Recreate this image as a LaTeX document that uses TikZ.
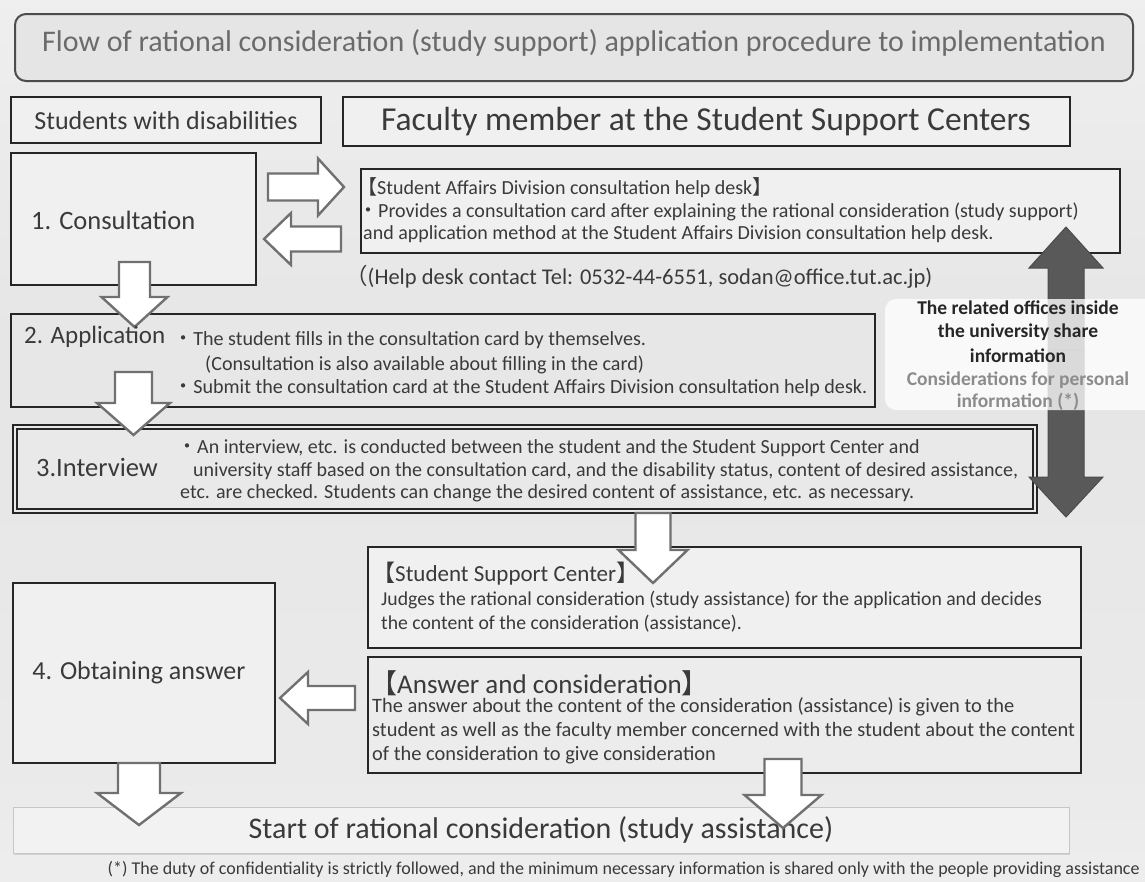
\documentclass[tikz,border=0pt]{standalone}
\usepackage{fontspec}
\setmainfont{Carlito}
\newfontfamily\cjk{Noto Sans CJK JP}
\usetikzlibrary{shadows}
\definecolor{ink}{HTML}{3A3A3A}
\definecolor{titleink}{HTML}{6B6B6B}
\definecolor{noteink}{HTML}{8C8C8C}
\definecolor{boxline}{HTML}{262626}
\definecolor{arrowline}{HTML}{707070}
\definecolor{darkarrow}{HTML}{595959}
\pgfdeclareverticalshading{bgshade}{100bp}{color(0bp)=(white); color(8bp)=(gray!6); color(30bp)=(gray!16); color(55bp)=(gray!20); color(80bp)=(gray!11); color(100bp)=(gray!3)}
\newcommand{\lbk}{{\cjk 【}}
\newcommand{\rbk}{{\cjk 】}}
\newcommand{\dotb}{{\cjk ・}}
\newcommand{\fwparen}{{\cjk （}}
\tikzset{
  box/.style={draw=boxline, line width=1.6pt, fill=#1},
  box/.default={gray!12},
  warrow/.style={draw=arrowline, line width=2.4pt, fill=white, line join=miter},
  darrow/.style={draw=darkarrow!85!black, line width=1pt, fill=darkarrow},
  txt/.style={inner sep=0pt, text=ink, font=\fontsize{#1}{#1}\selectfont},
  txt/.default={15.5},
  sharetxt/.style={inner sep=0pt, font=\bfseries\fontsize{19.5}{19.5}\selectfont},
}
% horizontal block arrow: tail x, head base x, tip x, centre y, shaft half, head half
\newcommand{\harrow}[6]{\path[warrow] (#1,{#4-#5}) -- (#2,{#4-#5}) -- (#2,{#4-#6}) -- (#3,#4) -- (#2,{#4+#6}) -- (#2,{#4+#5}) -- (#1,{#4+#5}) -- cycle;}
% vertical block arrow: tail y, head base y, tip y, centre x, shaft half, head half
\newcommand{\varrow}[7][warrow]{\path[#1] ({#5-#6},#2) -- ({#5-#6},#3) -- ({#5-#7},#3) -- (#5,#4) -- ({#5+#7},#3) -- ({#5+#6},#3) -- ({#5+#6},#2) -- cycle;}
\begin{document}
\begin{tikzpicture}[x=1pt,y=-1pt]
% page background
\path[shading=bgshade] (0,0) rectangle (1145,881);
\useasboundingbox (0,0) rectangle (1145,881);

% title
\draw[draw=gray!60!black, line width=2pt, fill=gray!20, rounded corners=11pt] (15,14) rectangle (1133,81);
\node[txt=30, text=titleink] (title) at (574,43) {Flow of rational consideration (study support) application procedure to implementation};

% column headers
\draw[box] (11,97) rectangle (321,143);
\node[txt=26] (students) at (166,121) {Students with disabilities};
\draw[box] (343,97) rectangle (1070,146);
\node[txt=33.5] (faculty) at (706,122) {Faculty member at the Student Support Centers};

% 1. consultation
\draw[box] (11,153) rectangle (256,285);
\node[txt=26.5, anchor=west] (consult) at (31,220) {1. Consultation};
\harrow{268}{318}{344}{187}{13.5}{28.5}
\harrow{341}{291}{264}{239}{12.5}{26}
\draw[box] (361,169) rectangle (1120,253);
\node[txt=20, anchor=west] (desk1) at (357,188) {\lbk Student Affairs Division consultation help desk\rbk};
\node[txt=20, anchor=west] (desk2) at (358,212) {\dotb Provides a consultation card after explaining the rational consideration (study support)};
\node[txt=20, anchor=west] (desk3) at (363,234) {and application method at the Student Affairs Division consultation help desk.};
\node[txt=22.5, anchor=west] (contact) at (345,277) {\fwparen(Help desk contact Tel: 0532-44-6551, sodan@office.tut.ac.jp)};

% 2. application
\draw[box=gray!19] (11,314) rectangle (875,407);
\varrow{262}{297}{327}{134.5}{15.5}{33}
\node[txt=25, anchor=west] (apply) at (24,337) {2. Application};
\node[txt=20.1, anchor=west] (app1) at (173,340) {\dotb The student fills in the consultation card by themselves.};
\node[txt=20.1, anchor=west] (app2) at (205,365) {(Consultation is also available about filling in the card)};
\node[txt=20.1, anchor=west] (app3) at (173,388) {\dotb Submit the consultation card at the Student Affairs Division consultation help desk.};

% 3. interview (double frame)
\draw[draw=boxline, line width=1.2pt, fill=gray!17] (13,425) rectangle (1037,513);
\draw[draw=boxline, line width=1.2pt] (17,429) rectangle (1033,509);
\varrow{372}{403}{435}{133.5}{18.5}{36.5}
\node[txt=26.5] (interview) at (97,467) {3.Interview};
\node[txt=20, anchor=west] (int1) at (177,448) {\dotb An interview, etc. is conducted between the student and the Student Support Center and};
\node[txt=20, anchor=west] (int2) at (193,471) {university staff based on the consultation card, and the disability status, content of desired assistance,};
\node[txt=20, anchor=west] (int3) at (180,493) {etc. are checked. Students can change the desired content of assistance, etc. as necessary.};

% information sharing between offices
\varrow[darrow]{350}{268}{227}{1066}{18}{37}
\varrow[darrow]{350}{477}{517}{1066}{18}{37}
\path[fill=white, fill opacity=0.78, rounded corners=11pt] (885,299) rectangle (1160,410);
\node[sharetxt, text=boxline] (share1) at (1018,308) {The related offices inside};
\node[sharetxt, text=boxline] (share2) at (1018,332) {the university share};
\node[sharetxt, text=boxline] (share3) at (1018,356) {information};
\node[sharetxt, text=noteink] (share4) at (1018,380) {Considerations for personal};
\node[sharetxt, text=noteink] (share5) at (1018,402) {information (*)};

% student support center decision
\draw[box] (368,547) rectangle (1081,648);
\node[txt=23, anchor=west] (ssc1) at (372,574) {\lbk Student Support Center\rbk};
\node[txt=19.7, anchor=west] (ssc2) at (381,600) {Judges the rational consideration (study assistance) for the application and decides};
\node[txt=19.7, anchor=west] (ssc3) at (381,624) {the content of the consideration (assistance).};
\varrow{513}{550}{583}{653}{17.5}{34.5}

% answer
\draw[box=gray!15] (368,657) rectangle (1081,773);
\node[txt=27, anchor=west] (ans1) at (370,683) {\lbk Answer and consideration\rbk};
\node[txt=20.4, anchor=west] (ans2) at (372,707) {The answer about the content of the consideration (assistance) is given to the};
\node[txt=20.4, anchor=west] (ans3) at (372,731) {student as well as the faculty member concerned with the student about the content};
\node[txt=20.4, anchor=west] (ans4) at (372,755) {of the consideration to give consideration};

% 4. obtaining answer
\draw[box] (13,583) rectangle (275,763);
\node[txt=26] (obtain) at (139,673) {4. Obtaining answer};
\harrow{355}{308}{280}{698}{12}{26}

% start of assistance
\draw[draw=gray!45, line width=1pt, fill=gray!10, drop shadow={shadow xshift=1pt, shadow yshift=-1.5pt, opacity=0.25}] (13,807) rectangle (1069,853);
\node[txt=30] (start) at (541,830) {Start of rational consideration (study assistance)};
\varrow{763}{793}{825}{139}{21}{42}
\varrow{759}{795}{828}{783}{18.5}{38.5}

% footnote
\node[txt=18, anchor=east] (note) at (1140,869) {(*) The duty of confidentiality is strictly followed, and the minimum necessary information is shared only with the people providing assistance};
\end{tikzpicture}
\end{document}
